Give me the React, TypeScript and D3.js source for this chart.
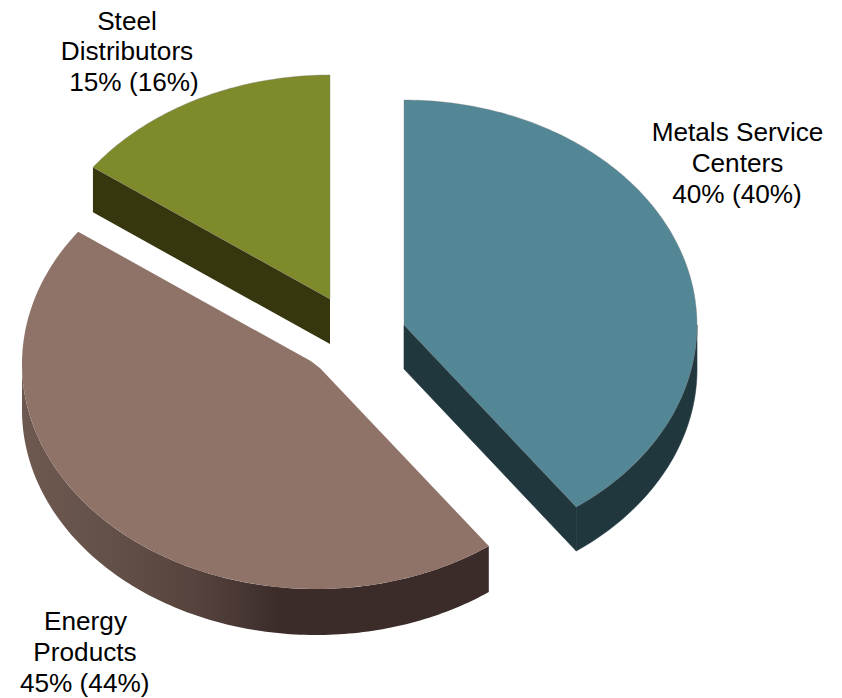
import React from "react";
import * as d3 from "d3";

// Revenue share by customer group, current period with prior period in brackets.
const categories = ["Metals Service Centers", "Energy Products", "Steel Distributors"];
const shares = [40, 45, 15];
const topColors = ["#538795", "#8f7369", "#7f8a2b"];
const wallColors = ["#21373e", "url(#energyWall)", "#36360f"];

const width = 842;
const height = 698;

// Exploded slice placement: apex position, elliptical radii and wall depth of each slice.
const apexX = [404, 316, 330];
const apexY = [325, 364, 299];
const radiusX = [293, 294, 293];
const radiusY = [225, 225, 224];
const wallDepth = [44, 46, 45];
const apexCut = [0, 6, 0];
const edgeOpacity = [0.35, 0, 0.35];

const labelLines = [
  ["Metals Service", "Centers", "40% (40%)"],
  ["Energy", "Products", "45% (44%)"],
  ["Steel", "Distributors", "15% (16%)"],
];
const labelX = [[737.5, 737.5, 737], [85.5, 85, 84.7], [127, 127, 134]];
const labelY = [[141, 172, 203], [630, 661, 692], [30, 60, 91]];

type Pt = [number, number];

const pie = d3.pie<number>().sort(null).startAngle(0).endAngle(2 * Math.PI);
const slices = pie(shares);
const line = d3.line<Pt>();

function rimPoint(i: number, a: number, dy = 0): Pt {
  return [apexX[i] + radiusX[i] * Math.sin(a), apexY[i] - radiusY[i] * Math.cos(a) + dy];
}

function rim(i: number, a0: number, a1: number, dy = 0): Pt[] {
  const n = Math.max(2, Math.ceil(Math.abs(a1 - a0) * 60));
  return d3.range(n + 1).map((k) => rimPoint(i, a0 + ((a1 - a0) * k) / n, dy));
}

function topFace(i: number, a0: number, a1: number): string {
  const arc = rim(i, a0, a1);
  const apex: Pt = [apexX[i], apexY[i]];
  const cut = apexCut[i];
  if (cut === 0) return line([apex, ...arc])! + "Z";
  const toward = (p: Pt): Pt => {
    const d = Math.hypot(p[0] - apex[0], p[1] - apex[1]);
    return [apex[0] + ((p[0] - apex[0]) * cut) / d, apex[1] + ((p[1] - apex[1]) * cut) / d];
  };
  return line([toward(arc[0]), ...arc, toward(arc[arc.length - 1])])! + "Z";
}

// Outer wall between two angles, extruded downward.
function outerWall(i: number, a0: number, a1: number): string {
  return line([...rim(i, a0, a1), ...rim(i, a1, a0, wallDepth[i])])! + "Z";
}

// Flat cut face running from the apex out to the rim at the given angle.
function cutWall(i: number, a: number): string {
  const apex: Pt = [apexX[i], apexY[i]];
  const edge = rimPoint(i, a);
  const d = wallDepth[i];
  return line([apex, edge, [edge[0], edge[1] + d], [apex[0], apex[1] + d]])! + "Z";
}

const HALF = Math.PI / 2;

export default function App() {
  const [metals, energy, steel] = slices;
  return (
    <svg
      width={width}
      height={height}
      style={{ position: "absolute", left: 0, top: 0, background: "#fff" }}
      fontFamily="'Liberation Sans', Arial, sans-serif"
    >
      <defs>
        <linearGradient id="energyWall" gradientUnits="userSpaceOnUse" x1={22} x2={490} y1={0} y2={0}>
          <stop offset="0" stopColor="#6e5950" />
          <stop offset="0.2" stopColor="#625048" />
          <stop offset="0.37" stopColor="#56433d" />
          <stop offset="0.5" stopColor="#433330" />
          <stop offset="0.55" stopColor="#3b2c29" />
          <stop offset="1" stopColor="#3b2c29" />
        </linearGradient>
      </defs>

      <path d={cutWall(2, steel.startAngle)} fill={wallColors[2]} />
      <path d={outerWall(1, energy.startAngle, 1.5 * Math.PI)} fill={wallColors[1]} />
      <path
        d={outerWall(0, HALF, metals.endAngle)}
        fill={wallColors[0]}
        stroke={wallColors[0]}
        strokeWidth={0.6}
      />
      <path
        d={cutWall(0, metals.endAngle)}
        fill={wallColors[0]}
        stroke={wallColors[0]}
        strokeWidth={0.6}
      />

      {slices.map((s, i) => (
        <path
          key={categories[i]}
          d={topFace(i, s.startAngle, s.endAngle)}
          fill={topColors[i]}
          stroke="#777"
          strokeOpacity={edgeOpacity[i]}
          strokeWidth={1}
        />
      ))}

      {labelLines.map((lines, i) =>
        lines.map((text, j) => (
          <text
            key={text}
            x={labelX[i][j]}
            y={labelY[i][j]}
            fontSize={26.2}
            textAnchor="middle"
            fill="#000"
          >
            {text}
          </text>
        ))
      )}
    </svg>
  );
}
